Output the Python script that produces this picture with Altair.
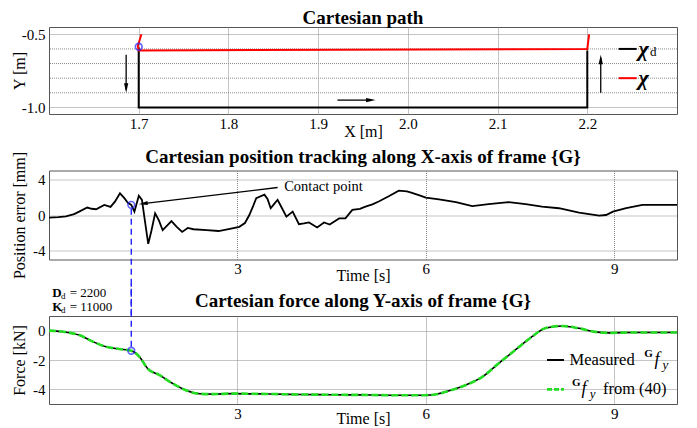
import altair as alt
import pandas as pd

FONT = "Liberation Serif"

# ---------------- data ----------------
# Panel 1: Cartesian path
path_d_x = [1.70, 1.70, 2.20, 2.20]
path_d_y = [-0.59, -1.00, -1.00, -0.61]
path_x = [1.703, 1.699, 1.700, 2.200, 2.202]
path_y = [-0.50, -0.58, -0.61, -0.60, -0.50]
contact_path = (1.70, -0.585)
y_grid_1 = [-0.9, -0.8, -0.7, -0.6]

# Panel 2: position error [mm] vs time [s]
t_err = [0.0, 0.15, 0.27, 0.4, 0.48, 0.61, 0.68, 0.75, 0.88, 0.98, 1.05, 1.13, 1.2, 1.26,
         1.31, 1.36, 1.43, 1.48, 1.53, 1.58, 1.63, 1.69, 1.75, 1.81, 1.88, 1.95, 2.03, 2.12,
         2.21, 2.3, 2.51, 2.7, 2.88, 3.03, 3.12, 3.19, 3.25, 3.3, 3.43, 3.48, 3.53, 3.58,
         3.64, 3.7, 3.78, 3.88, 3.98, 4.06, 4.14, 4.27, 4.38, 4.47, 4.55, 4.62, 4.72, 4.83,
         4.95, 5.04, 5.15, 5.25, 5.41, 5.57, 5.7, 5.78, 5.9, 6.0, 6.21, 6.48, 6.74, 7.0,
         7.32, 7.59, 7.85, 8.12, 8.44, 8.76, 8.87, 8.98, 9.19, 9.45, 9.72, 10.0]
err = [-0.3, -0.25, -0.15, 0.1, 0.38, 0.84, 0.7, 0.65, 1.14, 0.91, 1.5, 2.44, 1.9, 1.33,
       1.14, 0.38, 2.17, 1.7, -0.8, -3.24, -1.8, 0.19, -0.6, -1.71, -1.2, -0.69, -1.3, -1.9,
       -1.45, -1.6, -1.71, -1.8, -1.55, -1.33, -0.9, 0.0, 1.0, 1.9, 2.29, 1.8, 0.76, 1.2,
       1.71, 0.9, -0.19, 0.38, -1.03, -0.95, -0.84, -1.4, -0.84, -1.07, -0.7, -0.38, -0.38, 0.57,
       0.7, 0.95, 1.2, 1.52, 2.1, 2.74, 2.65, 2.48, 2.2, 1.95, 1.75, 1.45, 0.99, 1.22,
       1.45, 1.22, 0.95, 0.76, 0.27, -0.08, 0.0, 0.38, 0.76, 1.14, 1.14, 1.14]

# Panel 3: force [kN] vs time [s]
t_force = [0.0, 0.27, 0.48, 0.7, 0.91, 1.12, 1.31, 1.44, 1.57, 1.76, 1.97, 2.18, 2.4, 2.6,
           2.93, 3.5, 4.0, 4.5, 5.0, 5.5, 6.0, 6.15, 6.37, 6.63, 6.9, 7.16, 7.43, 7.69, 7.9,
           8.17, 8.44, 8.7, 8.91, 9.3, 10.0]
f_measured = [0.0, -0.1, -0.3, -0.75, -1.1, -1.25, -1.37, -1.78, -2.58, -3.03, -3.6, -4.06,
              -4.3, -4.33, -4.29, -4.32, -4.35, -4.37, -4.38, -4.4, -4.4, -4.35, -4.1, -3.72,
              -3.15, -2.23, -1.3, -0.41, 0.16, 0.32, 0.16, -0.08, -0.15, -0.12, -0.12]
f_model = [0.0, -0.1, -0.3, -0.75, -1.1, -1.25, -1.37, -1.78, -2.58, -3.03, -3.6, -4.06,
           -4.3, -4.33, -4.29, -4.32, -4.35, -4.37, -4.38, -4.4, -4.4, -4.35, -4.1, -3.72,
           -3.15, -2.23, -1.3, -0.41, 0.16, 0.32, 0.16, -0.08, -0.15, -0.12, -0.12]
contact_t = 1.31
contact_err = 1.14
contact_f = -1.37

W = 628
BLUE = "#2020ff"
GREEN = "#22dd22"
GRID = "#8a8a8a"

def xaxis(values, fmt, title_text, ty):
    return alt.Axis(values=values, format=fmt, title=title_text, titleY=ty,
                    titleBaseline="alphabetic", labelPadding=2, labelOverlap=False,
                    labelFont=FONT, titleFont=FONT)

def yaxis(values, expr, title_text, h):
    return alt.Axis(values=values, labelExpr=expr, title=title_text, titleX=-25,
                    titleY=h / 2, titleAngle=270, titleAlign="center",
                    titleBaseline="alphabetic", labelPadding=4, labelOverlap=False,
                    labelBound=False, labelFont=FONT, titleFont=FONT)

def title_mark(text, x, y):
    return alt.Chart().mark_text(text=text, font=FONT, fontSize=19, fontWeight="bold",
                                 align="center", baseline="alphabetic", color="black").encode(
        x=alt.datum(x), y=alt.datum(y))

# ---------------- panel 1 ----------------
H1 = 87
xs1 = alt.Scale(domain=[1.6, 2.3], nice=False, zero=False)
ys1 = alt.Scale(domain=[-1.045, -0.45], nice=False, zero=False)
df_d = pd.DataFrame({"x": path_d_x, "y": path_d_y, "i": range(len(path_d_x))})
df_p = pd.DataFrame({"x": path_x, "y": path_y, "i": range(len(path_x))})
df_g1 = pd.DataFrame({"y": y_grid_1})

lab1 = "datum.value < -0.75 ? '-1.0' : '-0.5'"
p1_grid = alt.Chart(df_g1).mark_rule(color=GRID, strokeDash=[1, 1], strokeWidth=1).encode(
    y=alt.Y("y:Q", scale=ys1,
            axis=yaxis([-1.0, -0.5], lab1, "Y [m]", H1)))
p1_d = alt.Chart(df_d).mark_line(color="black", strokeWidth=2).encode(
    x=alt.X("x:Q", scale=xs1, axis=xaxis([1.7, 1.8, 1.9, 2.0, 2.1, 2.2], ".1f", "X [m]", 22)),
    y=alt.Y("y:Q", scale=ys1),
    order="i:O")
p1_p = alt.Chart(df_p).mark_line(color="#ff0000", strokeWidth=2).encode(
    x="x:Q", y="y:Q", order="i:O")
p1_c = alt.Chart().mark_point(shape="circle", filled=False, color=BLUE, size=45, strokeWidth=1.6).encode(
    x=alt.datum(contact_path[0]), y=alt.datum(contact_path[1]))

DOWN = "M0,0L-0.45,-2L0.45,-2Z"
UP = "M0,0L-0.45,2L0.45,2Z"
RIGHT = "M0,0L-2,-0.45L-2,0.45Z"
p1_a1 = alt.Chart().mark_rule(color="black", strokeWidth=1.3).encode(
    x=alt.datum(1.686), y=alt.datum(-0.64), y2=alt.datum(-0.88))
p1_a1h = alt.Chart().mark_point(shape=DOWN, filled=True, color="black", size=90, opacity=1).encode(
    x=alt.datum(1.686), y=alt.datum(-0.90))
p1_a2 = alt.Chart().mark_rule(color="black", strokeWidth=1.3).encode(
    x=alt.datum(2.215), y=alt.datum(-0.90), y2=alt.datum(-0.66))
p1_a2h = alt.Chart().mark_point(shape=UP, filled=True, color="black", size=90, opacity=1).encode(
    x=alt.datum(2.215), y=alt.datum(-0.64))
p1_a3 = alt.Chart().mark_rule(color="black", strokeWidth=1.3).encode(
    x=alt.datum(1.9215), x2=alt.datum(1.955), y=alt.datum(-0.95))
p1_a3h = alt.Chart().mark_point(shape=RIGHT, filled=True, color="black", size=90, opacity=1).encode(
    x=alt.datum(1.964), y=alt.datum(-0.95))

p1_l1 = alt.Chart().mark_rule(color="black", strokeWidth=2).encode(
    x=alt.datum(2.235), x2=alt.datum(2.255), y=alt.datum(-0.6))
p1_l2 = alt.Chart().mark_rule(color="#ff0000", strokeWidth=2).encode(
    x=alt.datum(2.235), x2=alt.datum(2.255), y=alt.datum(-0.8))
chi_style = dict(font=FONT, fontSize=22, fontStyle="italic", fontWeight="bold", align="left",
                 baseline="middle", color="black")
p1_t1 = alt.Chart().mark_text(text="χ", **chi_style).encode(x=alt.datum(2.257), y=alt.datum(-0.6))
p1_t1d = alt.Chart().mark_text(text="d", font=FONT, fontSize=13, align="left", baseline="middle",
                               dy=3, color="black").encode(x=alt.datum(2.27), y=alt.datum(-0.6))
p1_t2 = alt.Chart().mark_text(text="χ", **chi_style).encode(x=alt.datum(2.257), y=alt.datum(-0.8))

panel1 = alt.layer(p1_grid, p1_d, p1_p, p1_c, p1_a1, p1_a1h, p1_a2, p1_a2h, p1_a3, p1_a3h,
                   p1_l1, p1_l2, p1_t1, p1_t1d, p1_t2).properties(
    width=W, height=H1,
    title=alt.TitleParams("Cartesian path", font=FONT, fontSize=19, fontWeight="bold",
                          color="black", anchor="middle", offset=-1))

# ---------------- panel 2 ----------------
H2 = 89
xs2 = alt.Scale(domain=[0, 10], nice=False, zero=False)
ys2 = alt.Scale(domain=[-5, 5], nice=False, zero=False)
df_e = pd.DataFrame({"t": t_err, "e": err})
lab2 = "datum.value == 4 ? '4' : (datum.value == 0 ? '0' : (datum.value == -4 ? '-4' : ''))"
p2_line = alt.Chart(df_e).mark_line(color="black", strokeWidth=1.8).encode(
    x=alt.X("t:Q", scale=xs2, axis=xaxis([3, 6, 9], "d", "Time [s]", 21)),
    y=alt.Y("e:Q", scale=ys2, axis=yaxis([-4, -2, 0, 2, 4], lab2, "Position error [mm]", H2)))
p2_dash = alt.Chart().mark_rule(color=BLUE, strokeWidth=1.4, strokeDash=[6, 4], clip=False).encode(
    x=alt.datum(contact_t), y=alt.datum(contact_err - 0.45), y2=alt.datum(-11.6))
p2_c = alt.Chart().mark_point(shape="circle", filled=False, color=BLUE, size=45, strokeWidth=1.6).encode(
    x=alt.datum(contact_t), y=alt.datum(contact_err))
p2_arrow = alt.Chart().mark_rule(color="black", strokeWidth=1.3).encode(
    x=alt.datum(3.64), y=alt.datum(3.09), x2=alt.datum(1.5), y2=alt.datum(1.28))
p2_head = alt.Chart().mark_point(shape=RIGHT, filled=True, color="black", size=80, opacity=1,
                                 angle=173).encode(x=alt.datum(1.43), y=alt.datum(1.22))
p2_text = alt.Chart().mark_text(text="Contact point", font=FONT, fontSize=14.5, align="left",
                                baseline="middle", color="black").encode(
    x=alt.datum(3.745), y=alt.datum(3.09))
p2_title = title_mark("Cartesian position tracking along X-axis of frame {G}", 5.0, 5.81)
panel2 = alt.layer(p2_line, p2_dash, p2_c, p2_arrow, p2_head, p2_text, p2_title).properties(
    width=W, height=H2)

# ---------------- panel 3 ----------------
H3 = 88
ys3 = alt.Scale(domain=[-5, 1], nice=False, zero=False)
df_f = pd.DataFrame({"t": t_force, "m": f_measured, "g": f_model})
lab3 = "datum.value == 0 ? '0' : (datum.value == -2 ? '-2' : (datum.value == -4 ? '-4' : ''))"
p3_m = alt.Chart(df_f).mark_line(color="black", strokeWidth=1.6, interpolate="monotone").encode(
    x=alt.X("t:Q", scale=xs2, axis=xaxis([3, 6, 9], "d", "Time [s]", 19)),
    y=alt.Y("m:Q", scale=ys3, axis=yaxis([-4, -3, -2, -1, 0], lab3, "Force [kN]", H3)))
p3_g = alt.Chart(df_f).mark_line(color=GREEN, strokeWidth=2.6, strokeDash=[7, 3],
                                 interpolate="monotone").encode(x="t:Q", y="g:Q")
p3_dash = alt.Chart().mark_rule(color=BLUE, strokeWidth=1.4, strokeDash=[6, 4], clip=False).encode(
    x=alt.datum(contact_t), y=alt.datum(contact_f + 0.27), y2=alt.datum(3.2))
p3_c = alt.Chart().mark_point(shape="circle", filled=False, color=BLUE, size=45, strokeWidth=1.6).encode(
    x=alt.datum(contact_t), y=alt.datum(contact_f))

txt = dict(font=FONT, align="left", baseline="middle", color="black")
p3_D = alt.Chart().mark_text(text="D", fontSize=13, fontWeight="bold", **txt).encode(
    x=alt.datum(0.05), y=alt.datum(2.57))
p3_Dd = alt.Chart().mark_text(text="d", fontSize=9, dy=3, **txt).encode(
    x=alt.datum(0.19), y=alt.datum(2.57))
p3_Dv = alt.Chart().mark_text(text="= 2200", fontSize=13, **txt).encode(
    x=alt.datum(0.33), y=alt.datum(2.57))
p3_K = alt.Chart().mark_text(text="K", fontSize=13, fontWeight="bold", **txt).encode(
    x=alt.datum(0.05), y=alt.datum(1.62))
p3_Kd = alt.Chart().mark_text(text="d", fontSize=9, dy=3, **txt).encode(
    x=alt.datum(0.19), y=alt.datum(1.62))
p3_Kv = alt.Chart().mark_text(text="= 11000", fontSize=13, **txt).encode(
    x=alt.datum(0.33), y=alt.datum(1.62))

p3_l1 = alt.Chart().mark_rule(color="black", strokeWidth=2).encode(
    x=alt.datum(7.93), x2=alt.datum(8.2), y=alt.datum(-2.0))
p3_l2 = alt.Chart().mark_rule(color=GREEN, strokeWidth=2.6, strokeDash=[5, 2]).encode(
    x=alt.datum(7.93), x2=alt.datum(8.2), y=alt.datum(-4.0))
p3_m_t = alt.Chart().mark_text(text="Measured", fontSize=16.5, **txt).encode(
    x=alt.datum(8.29), y=alt.datum(-2.0))
p3_G1 = alt.Chart().mark_text(text="G", fontSize=11, fontWeight="bold", dy=-6, **txt).encode(
    x=alt.datum(9.48), y=alt.datum(-2.0))
p3_f1 = alt.Chart().mark_text(text="f", fontSize=18, fontStyle="italic", **txt).encode(
    x=alt.datum(9.64), y=alt.datum(-2.0))
p3_y1 = alt.Chart().mark_text(text="y", fontSize=13, fontStyle="italic", dy=5, **txt).encode(
    x=alt.datum(9.77), y=alt.datum(-2.0))
p3_G2 = alt.Chart().mark_text(text="G", fontSize=11, fontWeight="bold", dy=-6, **txt).encode(
    x=alt.datum(8.33), y=alt.datum(-4.0))
p3_f2 = alt.Chart().mark_text(text="f", fontSize=18, fontStyle="italic", **txt).encode(
    x=alt.datum(8.48), y=alt.datum(-4.0))
p3_y2 = alt.Chart().mark_text(text="y", fontSize=13, fontStyle="italic", dy=5, **txt).encode(
    x=alt.datum(8.61), y=alt.datum(-4.0))
p3_from = alt.Chart().mark_text(text="from (40)", fontSize=16.5, **txt).encode(
    x=alt.datum(8.82), y=alt.datum(-4.0))
p3_title = title_mark("Cartesian force along Y-axis of frame {G}", 5.0, 1.61)

panel3 = alt.layer(p3_m, p3_g, p3_dash, p3_c, p3_D, p3_Dd, p3_Dv, p3_K, p3_Kd, p3_Kv,
                   p3_l1, p3_l2, p3_m_t, p3_G1, p3_f1, p3_y1, p3_G2, p3_f2, p3_y2,
                   p3_from, p3_title).properties(width=W, height=H3)

chart = alt.vconcat(panel1, panel2, panel3, spacing=56.5, bounds="flush").properties(
    padding={"left": 2, "top": 0, "right": 4, "bottom": 0}
).configure_view(
    stroke="#555555", strokeWidth=1
).configure_axis(
    labelFont=FONT, labelFontSize=15, labelColor="black", labelOverlap=False,
    titleFont=FONT, titleFontSize=16, titleFontWeight="normal", titleColor="black",
    domain=False, ticks=False,
    grid=True, gridColor=GRID, gridDash=[1, 1], gridWidth=1, gridOpacity=1,
)

chart.save("out.html", embed_options={"renderer": "svg", "actions": False})
